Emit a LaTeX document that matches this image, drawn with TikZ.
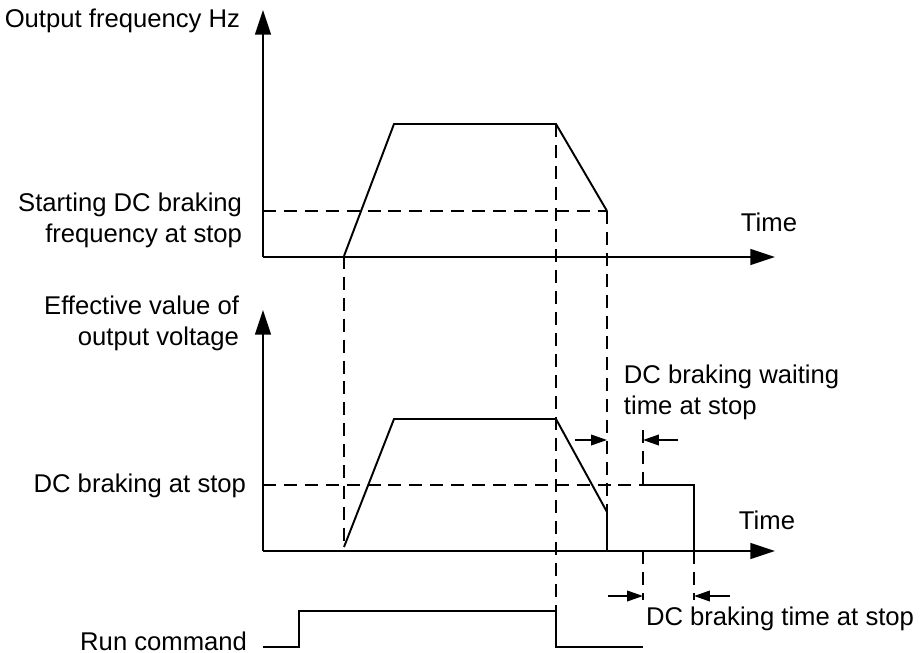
\documentclass[tikz,border=0pt]{standalone}
\usepackage{fontspec}
\setmainfont{Liberation Sans}
\usetikzlibrary{arrows.meta}

\begin{document}
\begin{tikzpicture}[x=0.02cm,y=-0.02cm,>={Triangle[length=14pt,width=9pt]},line width=1.1pt,
  every node/.style={font=\fontsize{14.6}{17.6}\selectfont,inner sep=0pt},
  guide/.style={dash pattern=on 7.4pt off 4.5pt},
  gap/.style={-{Triangle[length=9pt,width=6pt]},line width=1pt}]
  \useasboundingbox (0,0) rectangle (921,653);
  \coordinate (f0) at (344,256);
  \coordinate (f1) at (394,124);
  \coordinate (f2) at (556,124);
  \coordinate (f3) at (607,211);
  \coordinate (v0) at (344,547);
  \coordinate (v1) at (394,419);
  \coordinate (v2) at (556,419);
  \coordinate (v3) at (607,512);
  \coordinate (v4) at (607,551);
  \coordinate (dc0) at (643,485);
  \coordinate (dc1) at (694,485);
  \coordinate (dc2) at (694,551);
  \draw[->] (263,257) -- (263,10);
  \draw[->] (263,257) -- (775,257);
  \node[anchor=base east] (fout) at (241,27) {Output frequency Hz};
  \node[anchor=west] (ftime) at (740,222) {Time};
  \node[anchor=base east,align=right] (fstart) at (243,242) {Starting DC braking\\frequency at stop};
  \draw (f0) -- (f1) -- (f2) -- (f3);
  \draw[guide] (263,211) -- (f3);
  \draw[->] (263,551) -- (263,310);
  \draw[->] (263,551) -- (775,551);
  \node[anchor=base east,align=right] (vout) at (240,345) {Effective value of\\output voltage};
  \node[anchor=west] (vtime) at (738,520) {Time};
  \node[anchor=base east] (vdc) at (247,492) {DC braking at stop};
  \draw (v0) -- (v1) -- (v2) -- (v3) -- (v4);
  \draw[guide] (263,485) -- (dc0);
  \draw (dc0) -- (dc1) -- (dc2);
  \draw[guide] (f0) -- (v0);
  \draw[guide] (f2) -- (556,611);
  \draw[guide] (f3) -- (v3);
  \draw[guide] (643,430) -- (dc0);
  \draw[guide] (643,551) -- (643,600);
  \draw[guide] (dc2) -- (694,600);
  \draw[gap] (575,440) -- (607,440);
  \draw[gap] (678,440) -- (643,440);
  \node[anchor=base west,align=left] (wait) at (623,414) {DC braking waiting\\time at stop};
  \draw[gap] (608,596) -- (643,596);
  \draw[gap] (730,596) -- (694,596);
  \node[anchor=base east] (brake) at (915,625) {DC braking time at stop};
  \node[anchor=base east] (run) at (248,650) {Run command};
  \draw (263,647) -- (299,647) -- (299,611) -- (556,611) -- (556,647) -- (643,647);
\end{tikzpicture}
\end{document}
